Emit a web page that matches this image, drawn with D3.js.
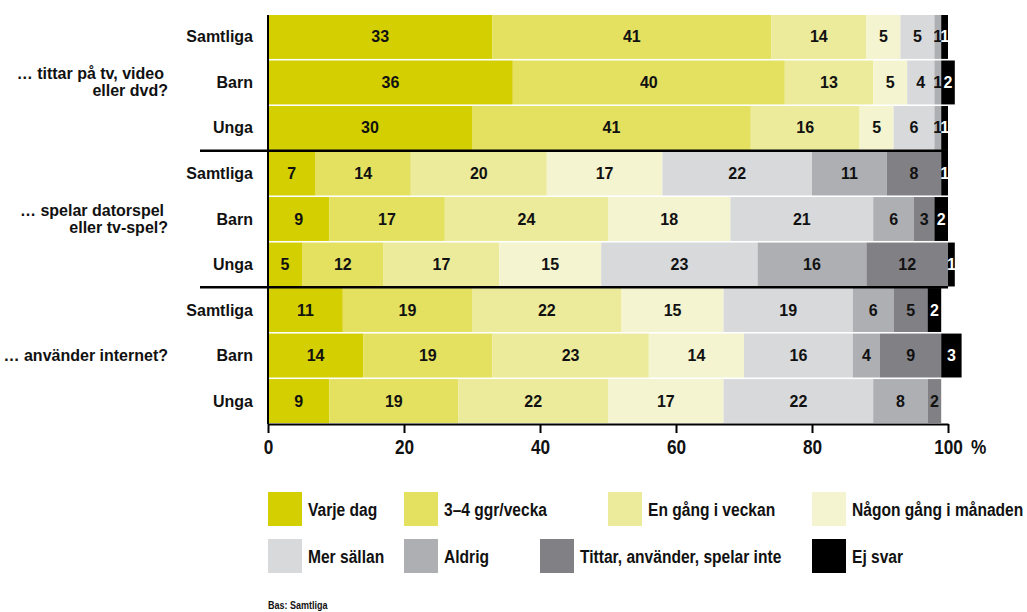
<!DOCTYPE html>
<html>
<head>
<meta charset="utf-8">
<script src="https://cdn.jsdelivr.net/npm/d3@7"></script>
<style>
  html, body { margin: 0; padding: 0; background: #fff; }
  svg { display: block; }
  .narrow { font-family: "Liberation Sans", Arial, sans-serif; font-weight: bold; }
  .wide { font-family: "Liberation Sans", Arial, sans-serif; font-weight: bold; }
</style>
</head>
<body>
<svg id="chart" width="1027" height="612"></svg>
<script>
// ---- data ----
const categories = ["Varje dag", "3–4 ggr/vecka", "En gång i veckan", "Någon gång i månaden",
                    "Mer sällan", "Aldrig", "Tittar, använder, spelar inte", "Ej svar"];
const colors = ["#d3cf00", "#e3e15f", "#eceb9b", "#f4f4d0", "#d8d9db", "#aeafb2", "#818085", "#000000"];
const rowLabels = ["Samtliga", "Barn", "Unga"];
const groupLabels = [["… tittar på tv, video", "eller dvd?"], ["… spelar datorspel", "eller tv-spel?"], ["… använder internet?"]];
const tvValues       = [[33, 41, 14, 5, 5, 1, 0, 1], [36, 40, 13, 5, 4, 1, 0, 2], [30, 41, 16, 5, 6, 1, 0, 1]];
const gamesValues    = [[7, 14, 20, 17, 22, 11, 8, 1], [9, 17, 24, 18, 21, 6, 3, 2], [5, 12, 17, 15, 23, 16, 12, 1]];
const internetValues = [[11, 19, 22, 15, 19, 6, 5, 2], [14, 19, 23, 14, 16, 4, 9, 3], [9, 19, 22, 17, 22, 8, 2, 0]];
const tickValues = [0, 20, 40, 60, 80, 100];
const footnote = "Bas: Samtliga";

const NARROW = 0.82; // horizontal compression to mimic a condensed face

// ---- build rows ----
const groupsData = [tvValues, gamesValues, internetValues];
const rows = [];
groupsData.forEach((g, gi) => g.forEach((vals, ri) => rows.push({ id: gi * 3 + ri, group: gi, label: rowLabels[ri], vals })));

const svg = d3.select("#chart");
const x = d3.scaleLinear().domain([0, 100]).range([268, 948]);
const y = d3.scaleBand().domain(rows.map(r => r.id)).range([15, 423]).paddingInner(0.035);

function segsOf(r) {
  let cum = 0;
  return r.vals.map((v, i) => { const s = { v, i, x0: cum, x1: cum + v }; cum += v; return s; }).filter(s => s.v > 0);
}

// segments
const rowG = svg.append("g").selectAll("g").data(rows).join("g");
rowG.each(function (r) {
  d3.select(this).selectAll("rect").data(segsOf(r)).join("rect")
    .attr("x", s => x(s.x0)).attr("width", s => x(s.x1) - x(s.x0))
    .attr("y", y(r.id)).attr("height", y.bandwidth())
    .attr("fill", s => colors[s.i]);
});
rowG.each(function (r) {
  d3.select(this).selectAll("text").data(segsOf(r)).join("text")
    .attr("class", "wide")
    .attr("x", s => (x(s.x0) + x(s.x1)) / 2)
    .attr("y", y(r.id) + y.bandwidth() / 2)
    .attr("text-anchor", "middle").attr("dominant-baseline", "central")
    .attr("font-size", 16)
    .attr("fill", s => s.i === 7 ? "#fff" : "#111")
    .text(s => s.v);
});

// row labels
svg.append("g").selectAll("text").data(rows).join("text")
  .attr("class", "wide").attr("font-size", 16)
  .attr("x", 253).attr("y", r => y(r.id) + y.bandwidth() / 2)
  .attr("text-anchor", "end").attr("dominant-baseline", "central")
  .attr("fill", "#111").text(r => r.label);

// group labels
groupLabels.forEach((lines, gi) => {
  const cy = (y(gi * 3) + y(gi * 3 + 2) + y.bandwidth()) / 2;
  const t = svg.append("text").attr("class", "wide").attr("font-size", 16)
    .attr("text-anchor", "end").attr("fill", "#111");
  lines.forEach((ln, li) => {
    t.append("tspan").attr("x", li === 0 && lines.length > 1 ? 164 : 168)
      .attr("y", cy + (li - (lines.length - 1) / 2) * 17)
      .attr("dominant-baseline", "central").text(ln);
  });
});

// group separators
[3, 6].forEach(i => {
  const yy = (y(i - 1) + y.bandwidth() + y(i)) / 2;
  svg.append("line").attr("x1", 200).attr("x2", x(100)).attr("y1", yy).attr("y2", yy)
    .attr("stroke", "#000").attr("stroke-width", 2.5);
});

// axis
const axisG = svg.append("g").attr("transform", "translate(0,424)")
  .call(d3.axisBottom(x).tickValues(tickValues).tickSize(9).tickSizeOuter(0).tickPadding(6).tickFormat(d3.format("d")));
axisG.select(".domain").attr("stroke", "#000").attr("stroke-width", 2);
axisG.selectAll(".tick line").attr("stroke", "#000").attr("stroke-width", 2);
axisG.selectAll(".tick text").attr("class", "narrow").attr("font-size", 21).attr("fill", "#111")
  .attr("transform", `scale(${NARROW},1)`);
svg.append("text").attr("class", "narrow").attr("font-size", 21).attr("fill", "#111")
  .attr("transform", `translate(${x(100) + 23},${424 + 9 + 6}) scale(${NARROW},1)`)
  .attr("dy", "0.71em").text("%");
// left vertical axis line
svg.append("line").attr("x1", x(0)).attr("x2", x(0)).attr("y1", 15).attr("y2", 424)
  .attr("stroke", "#000").attr("stroke-width", 2);

// legend
const legendPos = [[268, 492], [404, 492], [608, 492], [812, 492], [268, 539], [404, 539], [540, 539], [812, 539]];
const leg = svg.append("g").selectAll("g").data(categories).join("g")
  .attr("transform", (d, i) => `translate(${legendPos[i][0]},${legendPos[i][1]})`);
leg.append("rect").attr("width", 34).attr("height", 34).attr("fill", (d, i) => colors[i]);
leg.append("text").attr("class", "narrow").attr("font-size", 19).attr("fill", "#111")
  .attr("transform", `translate(40,17) scale(${NARROW},1)`)
  .attr("dominant-baseline", "central").text(d => d);

// footnote
svg.append("text").attr("class", "narrow").attr("font-size", 11).attr("fill", "#111")
  .attr("transform", `translate(268,609) scale(${NARROW},1)`).text(footnote);
</script>
</body>
</html>
